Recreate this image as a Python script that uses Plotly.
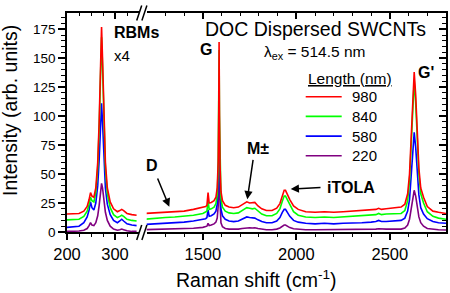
import plotly.graph_objects as go

# ---------------- data ----------------
lengths_nm = ["980", "840", "580", "220"]
line_colors = ["#FF0000", "#00FF00", "#0000FF", "#800080"]

# low-frequency (RBM, x4) segment
rbm_shift = [200, 215, 225, 235, 242, 246, 249, 252, 256, 260, 264, 267, 270, 272,
             274, 277, 280, 284, 290, 297, 305, 310, 314, 318, 325, 335, 345]
rbm_980 = [15.5, 15.5, 16, 18, 22, 28, 34, 31, 30, 38, 60, 95, 150, 177,
           150, 95, 60, 38, 26, 20, 17.5, 18.5, 19.5, 18.5, 16, 15, 14.5]
rbm_840 = [10.5, 10.5, 11, 13.5, 18, 24, 30, 27, 26, 34, 55, 90, 143, 168,
           143, 90, 55, 33, 21, 15, 12.5, 13.5, 14.5, 13.5, 11, 10, 9.5]
rbm_580 = [4, 4.5, 5, 8, 13, 19, 26, 21, 19, 25, 40, 62, 95, 111,
           95, 62, 38, 24, 15, 10, 8, 9.5, 11, 9.5, 7, 6, 5.5]
rbm_220 = [0.5, 0.5, 0.8, 1.5, 3, 5.5, 8, 6, 5.5, 8, 14, 23, 36, 42,
           38, 27, 17, 10, 5, 2.5, 1.5, 2, 2.5, 2, 1, 0.5, 0.5]

# high-frequency segment (D, G, M, iTOLA, G')
hf_shift = [1190, 1250, 1300, 1350, 1400, 1450, 1500, 1515, 1522, 1528, 1534, 1545,
            1560, 1570, 1577, 1582, 1585, 1587, 1589, 1592, 1597, 1605, 1620, 1640,
            1665, 1690, 1710, 1725, 1735, 1750, 1765, 1778, 1795, 1815, 1840, 1870,
            1895, 1912, 1925, 1935, 1942, 1952, 1965, 1985, 2010, 2050, 2100, 2150,
            2200, 2250, 2300, 2350, 2400, 2425, 2440, 2455, 2480, 2520, 2560, 2580,
            2595, 2605, 2615, 2622, 2630, 2638, 2645, 2655, 2665, 2680, 2700, 2730,
            2760, 2800]
hf_980 = [16, 16.5, 17, 17.5, 18, 19.5, 21, 22, 23, 34, 25, 25.5,
          27, 30, 38, 60, 105, 164, 105, 58, 35, 27, 23, 21.5,
          21, 21.5, 23.5, 25.5, 26, 25, 25, 25.5, 22.5, 20, 18.5, 18.5,
          20.5, 24.5, 31, 36, 36, 32, 28, 22.5, 19.5, 17.5, 17, 17.5,
          17, 17.5, 18, 18.5, 19, 19.5, 20.5, 19.5, 20, 20.5, 21.5, 24,
          33, 50, 85, 118, 138, 118, 88, 55, 38, 30, 22, 18,
          17, 16]
hf_840 = [11, 12, 12.5, 13, 13.5, 14.5, 16, 17, 18, 27, 19.5, 20,
          21.5, 24.5, 32, 55, 100, 157, 100, 52, 29, 21.5, 18, 16.5,
          16, 16.5, 18.5, 20.5, 21, 20.5, 20, 20.5, 18, 15.5, 14, 14,
          16, 20, 26.5, 31, 31, 27.5, 23, 17.5, 14.5, 13, 12.5, 13,
          12.5, 13, 13.5, 14, 14.5, 15, 16, 15, 15.5, 15.5, 16, 18.5,
          27, 44, 78, 110, 131, 111, 82, 50, 33, 25, 17.5, 13.5,
          12, 11]
hf_580 = [6.5, 7, 7.5, 8, 8.5, 9.5, 11, 11.5, 12.5, 19, 13.5, 14,
          15.5, 18, 24, 40, 62, 78, 62, 36, 20, 14, 11, 9.5,
          9, 9.5, 11, 12.5, 13, 12.5, 12, 12, 10.5, 9, 8, 8,
          9.5, 12.5, 17, 19.5, 19.5, 17, 13.5, 10, 8.5, 7.5, 7, 7.5,
          7, 7.5, 7.5, 8, 8.5, 9, 10, 9, 9, 9.5, 10, 12,
          18, 28, 50, 72, 86, 73, 53, 32, 21, 15.5, 11.5, 9,
          8, 7.5]
hf_220 = [2, 2.3, 2.5, 2.5, 2.8, 3.2, 4, 4.5, 5, 7.5, 5.5, 6,
          7, 8.5, 12, 22, 38, 52, 38, 18, 8, 4.5, 3, 2.5,
          2.3, 2.5, 3, 3.5, 3.8, 3.7, 3.5, 3.6, 3, 2.5, 2, 2,
          2.5, 3.5, 5, 6, 6, 5, 3.8, 2.8, 2.3, 2, 2, 2,
          2, 2, 2.2, 2.3, 2.4, 2.5, 2.8, 2.6, 2.5, 2.5, 2.5, 3.5,
          6, 11, 20, 29, 36, 31, 22, 13, 8, 5, 3, 2.2,
          2, 1.7]

rbm_series = [rbm_980, rbm_840, rbm_580, rbm_220]
hf_series = [hf_980, hf_840, hf_580, hf_220]

x_ticks_low = [200, 300]
x_minor_low = [225, 250, 275, 325]
x_ticks_high = [1500, 2000, 2500]
x_minor_high = [1300, 1400, 1600, 1700, 1800, 1900, 2100, 2200, 2300, 2400, 2600, 2700]
y_ticks = [0, 25, 50, 75, 100, 125, 150, 175]

# ---------------- geometry ----------------
W, H = 450, 293
ML, MR, MT, MB = 67, 4, 13, 61
PW = W - ML - MR
PH = H - MT - MB


def pxx(x):
    return (x - ML) / PW


def pxy(y):
    return (H - MB - y) / PH


dom_low = [0, pxx(139)]
dom_high = [pxx(146.7), 1]
x_low_range = [200, 350]
x_high_range = [1200, 2800]
y_range = [0, 189]

FONT = "Liberation Sans, Arial, Helvetica, sans-serif"

fig = go.Figure()
for i in range(3, -1, -1):
    fig.add_trace(go.Scatter(x=rbm_shift, y=rbm_series[i], mode="lines",
                             line=dict(color=line_colors[i], width=1.6),
                             xaxis="x", yaxis="y", showlegend=False,
                             name=lengths_nm[i] + " nm"))
    fig.add_trace(go.Scatter(x=hf_shift, y=hf_series[i], mode="lines",
                             line=dict(color=line_colors[i], width=1.6),
                             xaxis="x2", yaxis="y", showlegend=False,
                             name=lengths_nm[i] + " nm"))

# dummy traces to activate the mirror axes (top / right frame with inside ticks)
fig.add_trace(go.Scatter(x=[None], y=[None], xaxis="x3", yaxis="y", showlegend=False, hoverinfo="skip"))
fig.add_trace(go.Scatter(x=[None], y=[None], xaxis="x4", yaxis="y", showlegend=False, hoverinfo="skip"))
fig.add_trace(go.Scatter(x=[None], y=[None], xaxis="x2", yaxis="y2", showlegend=False, hoverinfo="skip"))

axis_common = dict(showline=True, linecolor="black", linewidth=1.5, showgrid=False,
                   zeroline=False, tickcolor="black", tickwidth=1.5)
tickfont_x = dict(family=FONT, size=16.5, color="black")

fig.update_layout(
    width=W, height=H,
    margin=dict(l=ML, r=MR, t=MT, b=MB, pad=0),
    paper_bgcolor="white", plot_bgcolor="white",
    font=dict(family=FONT, color="black"),
    showlegend=False,
    xaxis=dict(domain=dom_low, range=x_low_range, anchor="y", ticks="outside", ticklen=6,
               tickmode="array", tickvals=x_ticks_low, tickfont=tickfont_x,
               minor=dict(tickmode="array", tickvals=x_minor_low, ticks="outside", ticklen=3.5,
                          tickcolor="black", tickwidth=1.2),
               **axis_common),
    xaxis2=dict(domain=dom_high, range=x_high_range, anchor="y", ticks="outside", ticklen=6,
                tickmode="array", tickvals=x_ticks_high, tickfont=tickfont_x,
                minor=dict(tickmode="array", tickvals=x_minor_high, ticks="outside", ticklen=3.5,
                           tickcolor="black", tickwidth=1.2),
                **axis_common),
    xaxis3=dict(overlaying="x", side="top", anchor="y", range=x_low_range, ticks="inside", ticklen=6,
                tickmode="array", tickvals=x_ticks_low, showticklabels=False,
                minor=dict(tickmode="array", tickvals=x_minor_low, ticks="inside", ticklen=3.5,
                           tickcolor="black", tickwidth=1.2),
                **axis_common),
    xaxis4=dict(overlaying="x2", side="top", anchor="y", range=x_high_range, ticks="inside", ticklen=6,
                tickmode="array", tickvals=x_ticks_high, showticklabels=False,
                minor=dict(tickmode="array", tickvals=x_minor_high, ticks="inside", ticklen=3.5,
                           tickcolor="black", tickwidth=1.2),
                **axis_common),
    yaxis=dict(domain=[0, 1], range=y_range, anchor="x", side="left", ticks="outside", ticklen=7,
               tickmode="array", tickvals=y_ticks, tickfont=dict(family=FONT, size=13.5, color="black"),
               minor=dict(dtick=5, tick0=0, ticks="outside", ticklen=4, tickcolor="black", tickwidth=1.2),
               **axis_common),
    yaxis2=dict(overlaying="y", side="right", anchor="x2", range=y_range, ticks="inside", ticklen=7,
                tickmode="array", tickvals=y_ticks, showticklabels=False,
                minor=dict(dtick=5, tick0=0, ticks="inside", ticklen=4, tickcolor="black", tickwidth=1.2),
                **axis_common),
)

shapes = []
# axis-break marks (//) at bottom and top
for yc in (232.5, 13):
    for x0 in (136.7, 141.9):
        shapes.append(dict(type="line", xref="paper", yref="paper",
                           x0=pxx(x0), y0=pxy(yc + 7.5), x1=pxx(x0 + 5), y1=pxy(yc - 7.5),
                           line=dict(color="black", width=1.5)))
# legend samples
legend_rows = [96.7, 116.4, 136.1, 155.8]
for i in range(4):
    shapes.append(dict(type="line", xref="paper", yref="paper",
                       x0=pxx(305.7), x1=pxx(341.7), y0=pxy(legend_rows[i]), y1=pxy(legend_rows[i]),
                       line=dict(color=line_colors[i], width=1.6)))
fig.update_layout(shapes=shapes)

ann = []


def text(t, x, y, size, xanchor="left", bold=False, **kw):
    ann.append(dict(text=("<b>%s</b>" % t) if bold else t, xref="paper", yref="paper",
                    x=pxx(x), y=pxy(y), xanchor=xanchor, yanchor="middle", showarrow=False,
                    font=dict(family=FONT, size=size, color="black"), **kw))


text("DOC Dispersed SWCNTs", 428, 29, 19.5, xanchor="right")
text("λ<sub>ex</sub> = 514.5 nm", 261.7, 52.5, 15.5)
text("RBMs", 111.7, 32, 16, bold=True)
text("x4", 111.7, 55, 15)
text("G", 205.5, 49, 16, xanchor="center", bold=True)
text("G'", 426, 72.5, 16, xanchor="center", bold=True)
text("D", 152, 165.8, 16, xanchor="center", bold=True)
text("M±", 258.3, 148, 16, xanchor="center", bold=True)
text("iTOLA", 350.8, 187.5, 16, xanchor="center", bold=True)
text("<u>Length (nm)</u>", 305.7, 78.3, 15.5)
for i in range(4):
    text(lengths_nm[i], 350, legend_rows[i], 15)
text("Raman shift (cm<sup>-1</sup>)", 256.5, 279, 19.5, xanchor="center")
text("Intensity (arb. units)", 10, 111, 19.5, xanchor="center", textangle=-90)


def arrow(hx, hy, tx, ty):
    ann.append(dict(text="", xref="paper", yref="paper", x=pxx(hx), y=pxy(hy),
                    ax=tx - hx, ay=ty - hy, axref="pixel", ayref="pixel",
                    showarrow=True, arrowhead=2, arrowsize=1.1, arrowwidth=1.5, arrowcolor="black"))


arrow(169.3, 206.7, 157, 177)
arrow(247.3, 199.3, 253.3, 158.3)
arrow(290.7, 189, 322, 187.5)

fig.update_layout(annotations=ann)

fig.write_html("out.html",
               config={"displayModeBar": False},
               post_script="document.body.style.margin='0px';document.body.style.overflow='hidden';")
